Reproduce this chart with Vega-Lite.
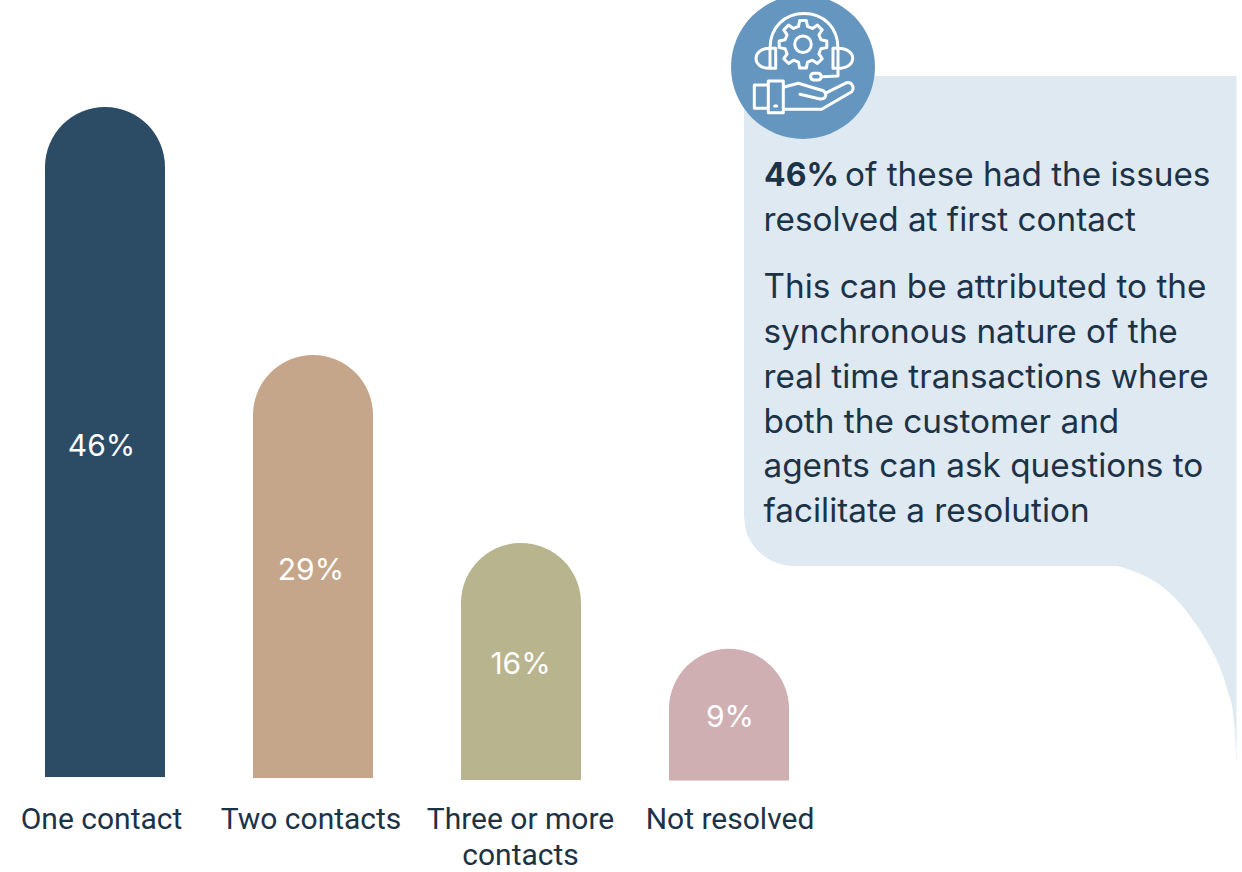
{
"$schema":"https://vega.github.io/schema/vega-lite/v6.json",
"width":1242,"height":872,"padding":0,
"autosize":{"type":"fit","contains":"padding"},
"background":"#ffffff",
"config":{"view":{"stroke":null}},
"datasets":{
"bars":[
{"category":"One contact","axisLabel":"One contact","value":45.96,"base":0.07,"label":"46%"},
{"category":"Two contacts","axisLabel":"Two contacts","value":28.97,"base":0,"label":"29%"},
{"category":"Three or more contacts","axisLabel":"Three or more\ncontacts","value":16.1,"base":-0.14,"label":"16%"},
{"category":"Not resolved","axisLabel":"Not resolved","value":8.85,"base":-0.17,"label":"9%"}
],
"panel":[
{"x":744,"bottom":516,"top":76},{"x":745.7,"bottom":529,"top":76},{"x":750.7,"bottom":541,"top":76},{"x":758.6,"bottom":551.4,"top":76},{"x":769,"bottom":559.3,"top":76},{"x":781,"bottom":564.3,"top":76},{"x":794,"bottom":566,"top":76},
{"x":1115,"bottom":566,"top":76},{"x":1130,"bottom":570,"top":76},{"x":1147,"bottom":577,"top":76},{"x":1160,"bottom":585,"top":76},{"x":1177,"bottom":600,"top":76},{"x":1193,"bottom":620,"top":76},{"x":1210,"bottom":647,"top":76},{"x":1222,"bottom":673,"top":76},{"x":1228,"bottom":692,"top":76},{"x":1233,"bottom":713,"top":76},{"x":1235,"bottom":733,"top":76},{"x":1236,"bottom":753,"top":76},{"x":1236.5,"bottom":770,"top":76}
],
"badge":[{"x":803,"y":67}],
"bold":[{"x":764,"y":176,"t":"46%"}],
"body":[
{"x":845,"y":176,"t":"of these had the issues"},
{"x":763.5,"y":221,"t":"resolved at first contact"},
{"x":763.5,"y":288,"t":"This can be attributed to the"},
{"x":763.5,"y":333,"t":"synchronous nature of the"},
{"x":763.5,"y":378,"t":"real time transactions where"},
{"x":763.5,"y":423,"t":"both the customer and"},
{"x":763.5,"y":467,"t":"agents can ask questions to"},
{"x":763.5,"y":512,"t":"facilitate a resolution"}
]
},
"resolve":{"scale":{"x":"independent","y":"independent","color":"independent"}},
"layer":[
{"data":{"name":"panel"},"mark":{"type":"area","color":"#dfe9f2","clip":true,"interpolate":"monotone"},
"encoding":{
"x":{"field":"x","type":"quantitative","scale":{"domain":[0,1242],"nice":false,"zero":false},"axis":null},
"y":{"field":"bottom","type":"quantitative","scale":{"domain":[872,0],"nice":false,"zero":false},"axis":null,"stack":null},
"y2":{"field":"top"}}},
{"data":{"name":"badge"},"mark":{"type":"point","shape":"circle","filled":true,"color":"#6496c0","opacity":1,"size":20736,"clip":true},
"encoding":{
"x":{"field":"x","type":"quantitative","scale":{"domain":[0,1242],"nice":false,"zero":false},"axis":null},
"y":{"field":"y","type":"quantitative","scale":{"domain":[872,0],"nice":false,"zero":false},"axis":null}}},
{"data":{"name":"badge"},"mark":{"type":"point","filled":false,"opacity":1,"size":4,"clip":true,"stroke":"#ffffff","strokeWidth":3,"strokeJoin":"round","strokeCap":"round",
"shape":"M-4.5,-40.6L-3.3,-46.5L3.3,-46.5L4.5,-40.6L9.5,-38.6L14.4,-41.9L19.2,-37.1L15.9,-32.2L17.9,-27.2L23.8,-26L23.8,-19.4L17.9,-18.2L15.9,-13.2L19.2,-8.3L14.4,-3.5L9.5,-6.8L4.5,-4.8L3.3,1.1L-3.3,1.1L-4.5,-4.8L-9.5,-6.8L-14.4,-3.5L-19.2,-8.3L-15.9,-13.2L-17.9,-18.2L-23.8,-19.4L-23.8,-26L-17.9,-27.2L-15.9,-32.2L-19.2,-37.1L-14.4,-41.9L-9.5,-38.6ZM-8.3,-22.7A8.3,8.3 0 1,1 8.3,-22.7A8.3,8.3 0 1,1 -8.3,-22.7ZM-33,-18.7C-33,-40 -18,-53.5 1,-53.5C20,-53.5 35,-40 35,-18.7M-33,-18.7L-27.3,-18.7L-27.3,1.3L-33,1.3C-42,1.3 -47,-3 -47,-8.7C-47,-14 -42,-18.7 -33,-18.7ZM-33,-18.7L-33,1.3M35,-18.7L30,-18.7L30,1.3L35,1.3C44,1.3 49.7,-3 49.7,-8.7C49.7,-14 44,-18.7 35,-18.7ZM35,-18.7L35,9L18.7,9.7M10.5,6.3L15.3,6.3A3.4,3.4 0 0 1 15.3,13L10.5,13A3.4,3.4 0 0 1 10.5,6.3ZM-48.7,18L-34.7,18L-34.7,41.3L-48.7,41.3ZM-34.7,14L-19.7,14L-19.7,45.7L-34.7,45.7ZM-28.3,39L-26.3,39M-19.7,20.3L-4.7,16.3L20.3,23.7C25.3,28 22,32.3 17,32L-3,27.3M23.7,25.7L43.7,15.7C48.7,14.7 52,20.3 48.7,24.7L18.7,42.3L-19.7,42.3"},
"encoding":{
"x":{"field":"x","type":"quantitative","scale":{"domain":[0,1242],"nice":false,"zero":false},"axis":null},
"y":{"field":"y","type":"quantitative","scale":{"domain":[872,0],"nice":false,"zero":false},"axis":null}}},
{"data":{"name":"bars"},"mark":{"type":"bar","cornerRadiusTopLeft":60,"cornerRadiusTopRight":60},
"encoding":{
"x":{"field":"category","type":"nominal","sort":null,"scale":{"domain":["One contact","Two contacts","Three or more contacts","Not resolved"],"range":[1,833],"paddingInner":0.4231,"paddingOuter":0.2115},"axis":null},
"y":{"field":"value","type":"quantitative","stack":null,"scale":{"domain":[-6.44,53.29],"nice":false,"zero":false},"axis":null},
"y2":{"field":"base"},
"color":{"field":"category","type":"nominal","legend":null,"scale":{"domain":["One contact","Two contacts","Three or more contacts","Not resolved"],"range":["#2c4c66","#c5a68a","#b8b48d","#d0afb3"]}}}},
{"data":{"name":"bars"},"mark":{"type":"text","color":"#ffffff","font":"Inter","fontSize":30,"baseline":"middle","align":"center","dy":4.5},
"encoding":{
"x":{"field":"category","type":"nominal","sort":null,"scale":{"domain":["One contact","Two contacts","Three or more contacts","Not resolved"],"range":[-3.25,834.75],"paddingInner":0.4231,"paddingOuter":0.2115},"axis":null},
"y":{"field":"value","type":"quantitative","stack":null,"scale":{"domain":[-12.88,106.58],"nice":false,"zero":false},"axis":null},
"text":{"field":"label"}}},
{"data":{"name":"bars"},"mark":{"type":"text","color":"#1c3347","font":"Roboto","fontSize":30,"baseline":"top","align":"center","lineBreak":"\n","lineHeight":36},
"encoding":{
"x":{"field":"category","type":"nominal","sort":null,"scale":{"domain":["One contact","Two contacts","Three or more contacts","Not resolved"],"range":[-3.25,834.75],"paddingInner":0.4231,"paddingOuter":0.2115},"axis":null},
"y":{"datum":804.5,"type":"quantitative","scale":{"domain":[872,0],"nice":false,"zero":false},"axis":null},
"text":{"field":"axisLabel"}}},
{"data":{"name":"body"},"mark":{"type":"text","color":"#1c3347","font":"Inter","fontSize":33.3,"baseline":"middle","align":"left"},
"encoding":{
"x":{"field":"x","type":"quantitative","scale":{"domain":[0,1242],"nice":false,"zero":false},"axis":null},
"y":{"field":"y","type":"quantitative","scale":{"domain":[872,0],"nice":false,"zero":false},"axis":null},
"text":{"field":"t"}}},
{"data":{"name":"bold"},"mark":{"type":"text","color":"#1c3347","font":"Inter","fontSize":32,"fontWeight":"bold","baseline":"middle","align":"left"},
"encoding":{
"x":{"field":"x","type":"quantitative","scale":{"domain":[0,1242],"nice":false,"zero":false},"axis":null},
"y":{"field":"y","type":"quantitative","scale":{"domain":[872,0],"nice":false,"zero":false},"axis":null},
"text":{"field":"t"}}}
]
}
